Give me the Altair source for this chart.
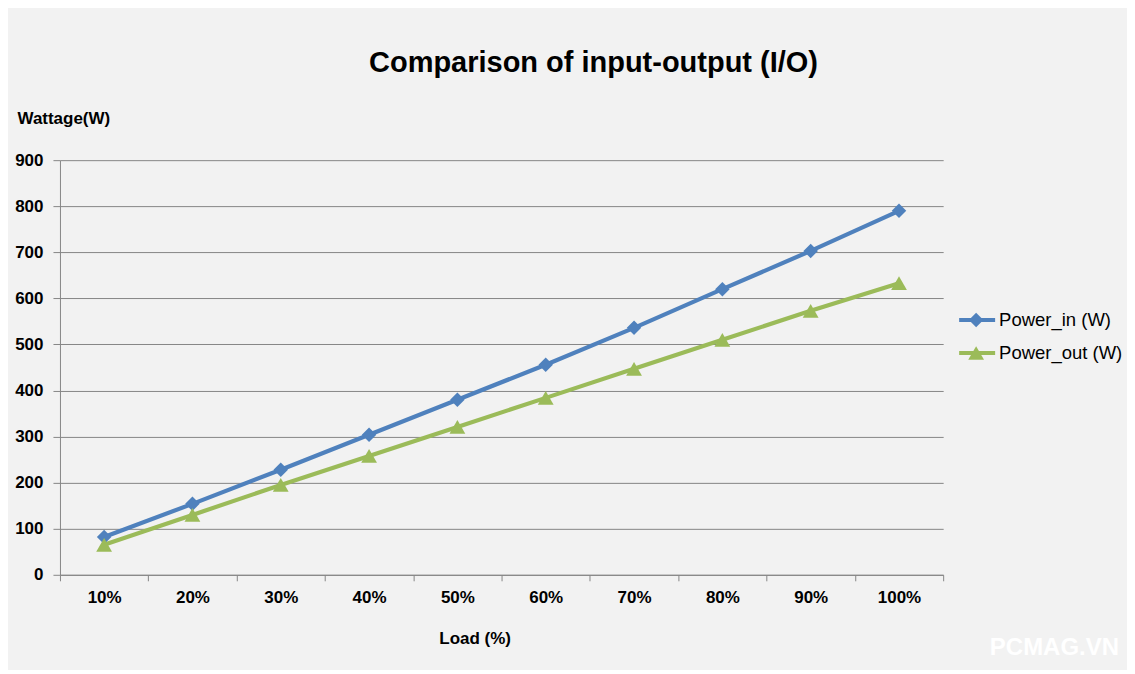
import altair as alt
import pandas as pd

loads = ["10%", "20%", "30%", "40%", "50%", "60%", "70%", "80%", "90%", "100%"]
power_in = [82, 154, 228, 304, 380, 456, 536, 620, 703, 790]
power_out = [65, 130, 195, 258, 321, 384, 447, 510, 573, 633]
series_names = ["Power_in (W)", "Power_out (W)"]
colors = ["#4f81bd", "#9bbb59"]

df = pd.DataFrame({
    "load": loads * 2,
    "watt": power_in + power_out,
    "series": [series_names[0]] * len(loads) + [series_names[1]] * len(loads),
})

W, H = 884, 415
AXIS_FONT = "Liberation Sans"
AFS = 17
GRAY = "#868686"

x_enc = alt.X(
    "load:N", sort=loads, bandPosition=0.5,
    scale=alt.Scale(type="band", paddingInner=0, paddingOuter=0),
    axis=alt.Axis(
        title="Load (%)", labelAngle=0, tickBand="extent", grid=False,
        domainColor=GRAY, tickColor=GRAY, tickSize=6, labelPadding=9,
        labelFont=AXIS_FONT, labelFontSize=AFS, labelFontWeight="bold", labelColor="#000",
        titleFont=AXIS_FONT, titleFontSize=AFS, titleFontWeight="bold", titleColor="#000",
        titleX=415, titleY=64, titleBaseline="middle", titleAlign="center",
    ),
)
y_enc = alt.Y(
    "watt:Q",
    scale=alt.Scale(domain=[0, 900], nice=False),
    axis=alt.Axis(
        title="Wattage(W)", values=list(range(0, 901, 100)),
        grid=True, gridColor=GRAY, gridOpacity=1, gridWidth=1,
        domainColor=GRAY, tickColor=GRAY, tickSize=7, labelPadding=10,
        labelFont=AXIS_FONT, labelFontSize=AFS, labelFontWeight="bold", labelColor="#000",
        titleFont=AXIS_FONT, titleFontSize=AFS, titleFontWeight="bold", titleColor="#000",
        titleAngle=0, titleAlign="left", titleBaseline="middle", titleX=-43, titleY=-42,
    ),
)
color_enc = alt.Color("series:N", scale=alt.Scale(domain=series_names, range=colors), legend=None)
shape_enc = alt.Shape("series:N", scale=alt.Scale(domain=series_names, range=["diamond", "triangle-up"]), legend=None)
size_enc = alt.Size("series:N", scale=alt.Scale(domain=series_names, range=[210, 250]), legend=None)

base = alt.Chart(df)
lines = base.mark_line(strokeWidth=4.2).encode(x=x_enc, y=y_enc, color=color_enc)
points = base.mark_point(filled=True, opacity=1).encode(
    x=x_enc, y=y_enc, color=color_enc, shape=shape_enc, size=size_enc
)

title = alt.Chart(pd.DataFrame({"t": ["Comparison of input-output (I/O)"]})).mark_text(
    font="Liberation Sans", fontSize=29, fontWeight="bold", color="#000",
    align="center", baseline="middle"
).encode(text="t:N", x=alt.value(534), y=alt.value(-97))

# manual legend
leg_layers = []
leg_shapes = ["diamond", "triangle-up"]
leg_sizes = [210, 250]
for i, name in enumerate(series_names):
    yv = 160 + 33 * i
    d = pd.DataFrame({"name": [name]})
    c = alt.Chart(d)
    leg_layers.append(c.mark_rule(color=colors[i], strokeWidth=4.2).encode(
        x=alt.value(900), x2=alt.value(936), y=alt.value(yv)))
    leg_layers.append(c.mark_point(filled=True, opacity=1, color=colors[i], shape=leg_shapes[i], size=leg_sizes[i]).encode(
        x=alt.value(917), y=alt.value(yv)))
    leg_layers.append(c.mark_text(font="Liberation Sans", fontSize=18.5, color="#000", align="left", baseline="middle").encode(
        text="name:N", x=alt.value(940), y=alt.value(yv)))

watermark = alt.Chart(pd.DataFrame({"t": ["PCMAG.VN"]})).mark_text(
    font="Liberation Sans", fontSize=24, fontWeight="bold", color="#ffffff",
    align="right", baseline="middle"
).encode(text="t:N", x=alt.value(1120 - 60), y=alt.value(648 - 160))

chart = alt.layer(lines, points, title, watermark, *leg_layers).properties(
    width=W, height=H,
    autosize=alt.AutoSizeParams(type="none"),
    padding={"left": 52, "top": 152, "right": 184, "bottom": 95},
    background="#f2f2f2",
).configure_view(stroke=None)

chart.save("out.html", embed_options={"renderer": "svg", "actions": False})
